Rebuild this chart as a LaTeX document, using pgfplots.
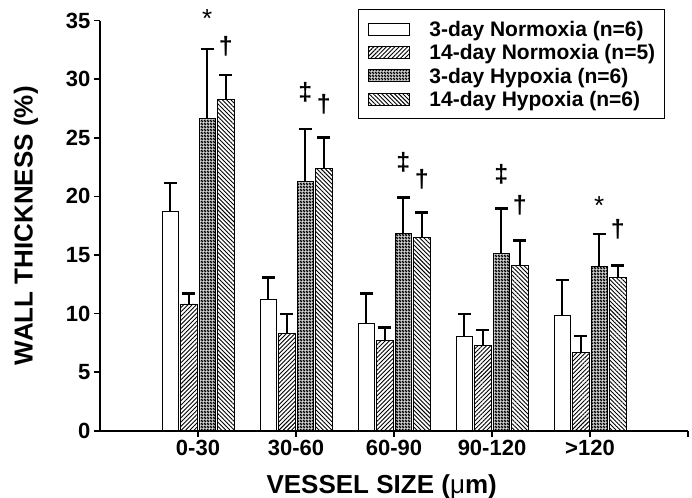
\documentclass[border=0pt]{standalone}
\usepackage{fontspec}
\setmainfont{Liberation Sans}
\usepackage{pgfplots}
\pgfplotsset{compat=1.18}
\usetikzlibrary{patterns,patterns.meta}

% dark dotted fill of the 3-day hypoxia bars
\pgfdeclarepattern{
  name=darkdots,
  type=uncolored,
  bottom left={\pgfpoint{0pt}{0pt}},
  top right={\pgfpoint{3pt}{3pt}},
  tile size={\pgfpoint{3pt}{3pt}},
  code={
    \pgfpathrectangle{\pgfpointorigin}{\pgfpoint{3pt}{3pt}}
    \pgfpathrectangle{\pgfpoint{0.25pt}{0.25pt}}{\pgfpoint{1pt}{1pt}}
    \pgfpathrectangle{\pgfpoint{1.75pt}{1.75pt}}{\pgfpoint{1pt}{1pt}}
    \pgfseteorule
    \pgfusepath{fill}
  }
}

\pgfplotsset{
  legimg/.style={legend image code/.code={
    \draw[##1,line width=0.8pt] (0pt,-6pt) rectangle (41pt,6pt);
    \path (61pt,0pt);}},
  barstyle/.style={draw=black, line width=0.8pt, legimg,
    error bars/y dir=plus,
    error bars/y explicit,
    error bars/error bar style={line width=2.4pt, black, solid},
    error bars/error mark options={line width=2.6pt, black, mark size=6.5pt, rotate=90}},
}

\begin{document}
\begin{tikzpicture}
\path[use as bounding box] (-100pt,-66.3pt) rectangle (592pt,430.7pt);
\begin{axis}[
  at={(0pt,0pt)}, anchor=south west,
  scale only axis, width=588pt, height=410pt,
  xmin=0, xmax=6, ymin=0, ymax=35,
  enlargelimits=false,
  ybar=2pt, bar width=16.5pt,
  axis lines*=left,
  axis line style={line width=1.6pt},
  tick style={line width=1.6pt, black},
  tick align=outside,
  major tick length=6pt,
  xtick={1,2,3,4,5,6},
  xticklabels={0-30,30-60,60-90,90-120,>120,},
  ytick={0,5,...,35},
  tick label style={font=\fontsize{22}{22}\selectfont\bfseries},
  /pgf/number format/assume math mode=true,
  xlabel={VESSEL SIZE ({\mdseries μ}m)},
  ylabel={WALL THICKNESS (\%)},
  label style={font=\fontsize{26}{26}\selectfont\bfseries},
  xlabel style={at={(axis description cs:0.479,0)}, anchor=base, yshift=-62.3pt},
  ylabel style={at={(axis description cs:-0.126,0.5)}, anchor=center},
  clip=false,
  legend style={at={(axis description cs:0.4388,1.0285)}, anchor=north west,
    draw=black, line width=1.2pt, inner xsep=9pt, inner ysep=12pt,
    row sep=8.3pt, font=\fontsize{21}{21}\selectfont\bfseries,
    nodes={inner sep=0pt, text height=15pt, text depth=0pt}},
  legend cell align=left,
]
\addplot[barstyle, fill=white] table[x=x, y=y, y error=e] {
x y e
1 18.70 2.43
2 11.22 1.85
3 9.17 2.56
4 8.03 1.94
5 9.82 3.05
};
\addplot[barstyle, pattern={Lines[angle=45, distance=3pt, line width=0.9pt]}] table[x=x, y=y, y error=e] {
x y e
1 10.82 0.91
2 8.32 1.65
3 7.69 1.14
4 7.26 1.34
5 6.70 1.39
};
\addplot[barstyle, pattern=darkdots] table[x=x, y=y, y error=e] {
x y e
1 26.62 5.95
2 21.24 4.50
3 16.86 3.07
4 15.15 3.81
5 14.01 2.79
};
\addplot[barstyle, pattern={Lines[angle=-45, distance=3pt, line width=0.9pt]}] table[x=x, y=y, y error=e] {
x y e
1 28.30 2.08
2 22.41 2.61
3 16.48 2.17
4 14.07 2.16
5 13.07 1.02
};
\legend{3-day Normoxia (n=6), 14-day Normoxia (n=5), 3-day Hypoxia (n=6), 14-day Hypoxia (n=6)}

\begin{scope}[every node/.style={font=\fontsize{25}{25}\selectfont\bfseries}]
\node[font=\fontsize{26}{26}\selectfont] at (axis cs:1.094,35.2) {*};
\node at (axis cs:1.283,32.79) {†};
\node at (axis cs:2.094,28.88) {‡};
\node at (axis cs:2.283,27.90) {†};
\node at (axis cs:3.094,22.93) {‡};
\node at (axis cs:3.283,21.48) {†};
\node at (axis cs:4.094,21.90) {‡};
\node at (axis cs:4.283,19.20) {†};
\node[font=\fontsize{26}{26}\selectfont] at (axis cs:5.094,19.22) {*};
\node at (axis cs:5.283,17.17) {†};
\end{scope}
\end{axis}
\end{tikzpicture}
\end{document}
